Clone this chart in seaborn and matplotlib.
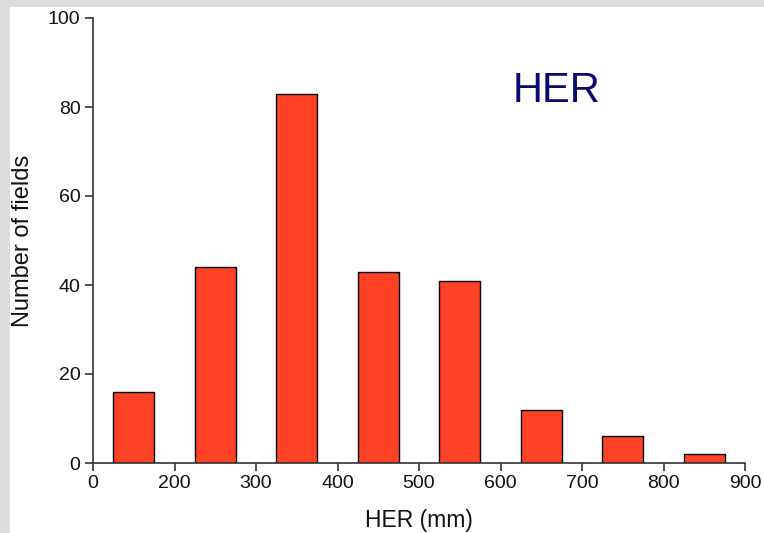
import matplotlib
matplotlib.use("Agg")
import matplotlib.pyplot as plt
import seaborn as sns
import pandas as pd
from matplotlib.patches import Rectangle

# Data
bin_labels = ["<200", "200-300", "300-400", "400-500", "500-600", "600-700", "700-800", "800-900"]
bin_pos = [0.5, 1.5, 2.5, 3.5, 4.5, 5.5, 6.5, 7.5]
counts = [16, 44, 83, 43, 41, 12, 6, 2]
tick_pos = [0, 1, 2, 3, 4, 5, 6, 7, 8]
tick_labels = ["0", "200", "300", "400", "500", "600", "700", "800", "900"]
y_ticks = [0, 20, 40, 60, 80, 100]

sns.set_style("white")
plt.rcParams["font.family"] = ["Liberation Sans", "DejaVu Sans"]

df = pd.DataFrame({"pos": bin_pos, "count": counts, "bin": bin_labels})

fig = plt.figure(figsize=(7.64, 5.33), dpi=100)
fig.patch.set_facecolor("white")
# light gray frame on top and left
fig.patches.append(Rectangle((0, 1 - 7 / 533), 1, 7 / 533, transform=fig.transFigure,
                             facecolor="#dcdcdc", edgecolor="none", zorder=0))
fig.patches.append(Rectangle((0, 0), 10 / 764, 1, transform=fig.transFigure,
                             facecolor="#dcdcdc", edgecolor="none", zorder=0))

ax = fig.add_axes([93 / 764, (533 - 463) / 533, (745 - 93) / 764, (463 - 18) / 533])
sns.barplot(data=df, x="pos", y="count", native_scale=True, width=0.5,
            color="#ff4126", saturation=1, edgecolor="black", linewidth=1, ax=ax)

ax.set_xlim(0, 8)
ax.set_ylim(0, 100)
ax.set_xticks(tick_pos)
ax.set_xticklabels(tick_labels)
ax.set_yticks(y_ticks)
ax.set_yticklabels([str(v) for v in y_ticks])

for s in ["top", "right"]:
    ax.spines[s].set_visible(False)
for s in ["left", "bottom"]:
    ax.spines[s].set_color("#333333")
    ax.spines[s].set_linewidth(1.2)

ax.tick_params(axis="both", which="major", direction="out", length=6, width=1.2,
               color="#333333", labelsize=14, labelcolor="#111111", pad=3,
               bottom=True, left=True)

ax.set_xlabel("HER (mm)", fontsize=16.5, color="#111111", labelpad=12)
ax.set_ylabel("Number of fields", fontsize=17, color="#111111", labelpad=10)

ax.text(0.643, 0.811, "HER", transform=ax.transAxes, fontsize=30,
        color="#0a0a6e", ha="left", va="baseline")

fig.savefig("out.png", dpi=100, facecolor=fig.get_facecolor())
